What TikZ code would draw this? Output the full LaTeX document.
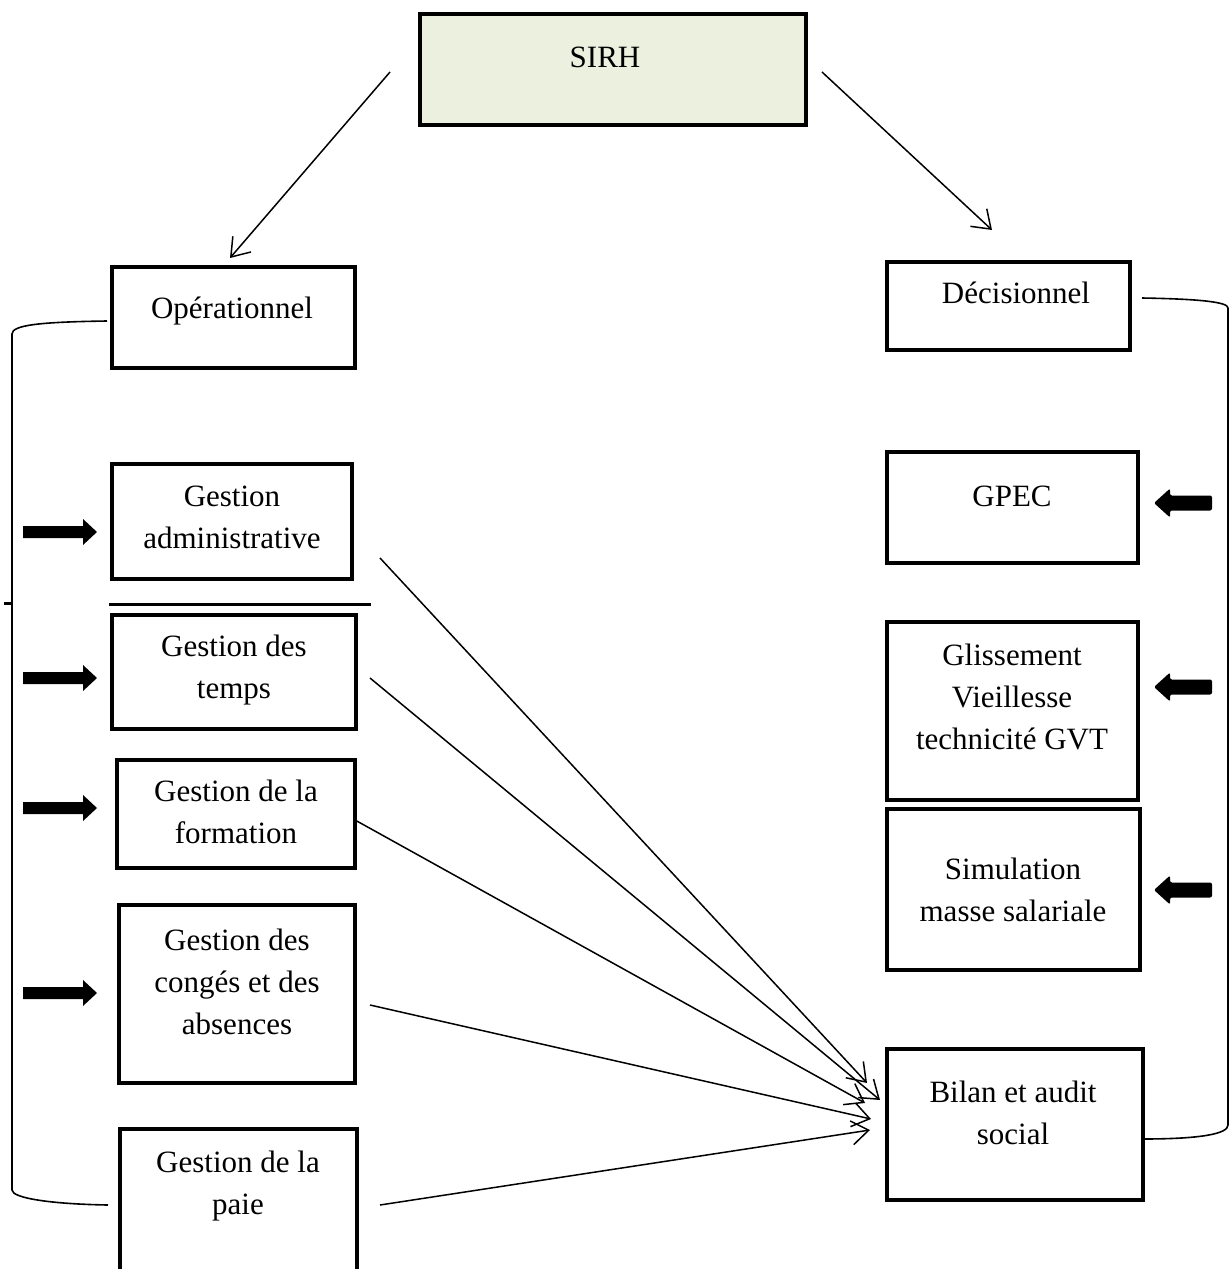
\documentclass[tikz,border=0pt]{standalone}
\usepackage{fontspec}
\setmainfont{Liberation Serif}
\usetikzlibrary{arrows.meta}
\definecolor{sirhfill}{HTML}{EBF1DE}
\begin{document}
\begin{tikzpicture}[x=1pt,y=-1pt,
  box/.style={draw=black, line width=4.5pt, inner sep=0pt},
  txt/.style={align=center, inner sep=0pt, font=\fontsize{31}{42}\selectfont},
  conn/.style={line width=1.5pt, -{Straight Barb[length=17pt,width=24pt,line width=1.5pt]}},
  brk/.style={line width=1.6pt},
  fat/.style={fill=black, line join=round}
]
\useasboundingbox (0,0) rectangle (1231,1269);

% boxes
\node[box, fill=sirhfill, minimum width=386pt, minimum height=111pt] (sirh) at (613,69.5) {};
\node[txt] (tsirh) at (605,57) {SIRH};

\node[box, minimum width=243pt, minimum height=101pt] (op) at (233.5,317.5) {};
\node[txt] (top) at (232,311) {Opérationnel};

\node[box, minimum width=243pt, minimum height=88pt] (dec) at (1008.5,306) {};
\node[txt] (tdec) at (1016,293) {Décisionnel};

\node[box, minimum width=240pt, minimum height=115pt] (adm) at (232,521.5) {};
\node[txt] (tadm) at (232,517) {Gestion\\administrative};

\node[box, minimum width=244pt, minimum height=114pt] (tps) at (234,672) {};
\node[txt] (ttps) at (234,670) {Gestion des\\temps};

\node[box, minimum width=238pt, minimum height=108pt] (frm) at (236,814) {};
\node[txt] (tfrm) at (236,812) {Gestion de la\\formation};

\node[box, minimum width=236pt, minimum height=178pt] (cng) at (237,994) {};
\node[txt] (tcng) at (237,982) {Gestion des\\congés et des\\absences};

\node[box, minimum width=237pt, minimum height=150pt] (pai) at (238.5,1204) {};
\node[txt] (tpai) at (238,1186) {Gestion de la\\paie};

\node[box, minimum width=251pt, minimum height=111pt] (gpec) at (1012.5,507.5) {};
\node[txt] (tgpec) at (1012,496) {GPEC};

\node[box, minimum width=251pt, minimum height=178pt] (gvt) at (1012.5,711) {};
\node[txt] (tgvt) at (1012,697) {Glissement\\Vieillesse\\technicité GVT};

\node[box, minimum width=253pt, minimum height=161pt] (sim) at (1013.5,889.5) {};
\node[txt] (tsim) at (1013,890) {Simulation\\masse salariale};

\node[box, minimum width=256pt, minimum height=151pt] (bil) at (1015,1124.5) {};
\node[txt] (tbil) at (1013,1113) {Bilan et audit\\social};

% separator line
\coordinate (s1) at (109,604);
\coordinate (s2) at (371,604);
\draw[line width=3pt] (s1) -- (s2);
\coordinate (k1) at (4,603);
\coordinate (k2) at (12,603);
\draw[line width=3pt] (k1) -- (k2);

% brackets
\coordinate (lb1) at (107,321);
\coordinate (lb2) at (12,334);
\coordinate (lb3) at (12,1190);
\coordinate (lb4) at (108,1205);
\draw[brk] (lb1) .. controls (40,322) and (12,325) .. (lb2) -- (lb3) .. controls (12,1198) and (50,1204) .. (lb4);

\coordinate (rb1) at (1142,298);
\coordinate (rb2) at (1228,308);
\coordinate (rb3) at (1228,1125);
\coordinate (rb4) at (1142,1139);
\draw[brk] (rb1) .. controls (1200,299) and (1228,302) .. (rb2) -- (rb3) .. controls (1228,1134) and (1200,1139) .. (rb4);

% thin arrows
\coordinate (a1s) at (390,72);   \coordinate (a1e) at (230,258);
\coordinate (a2s) at (822,72);   \coordinate (a2e) at (992,230);
\coordinate (a3s) at (380,558);  \coordinate (a3e) at (867,1083);
\coordinate (a4s) at (370,678);  \coordinate (a4e) at (880,1100);
\coordinate (a5s) at (355,820);  \coordinate (a5e) at (865,1103);
\coordinate (a6s) at (370,1005); \coordinate (a6e) at (871,1119);
\coordinate (a7s) at (380,1205); \coordinate (a7e) at (870,1130);
\foreach \i in {1,...,7} \draw[conn] (a\i s) -- (a\i e);

% fat arrows, left column (pointing right)
\foreach \y in {532,678,808,993}
  \fill[fat] (23,\y-6) -- (83,\y-6) -- (83,\y-13) -- (97,\y) -- (83,\y+13) -- (83,\y+6) -- (23,\y+6) -- cycle;

% fat arrows, right column (pointing left)
\foreach \y in {503,687,890}
  \fill[fat, rounded corners=2pt] (1212,\y-7.5) -- (1170,\y-7.5) -- (1170,\y-14.5) -- (1154,\y) -- (1170,\y+14.5) -- (1170,\y+7.5) -- (1212,\y+7.5) -- cycle;

\end{tikzpicture}
\end{document}
